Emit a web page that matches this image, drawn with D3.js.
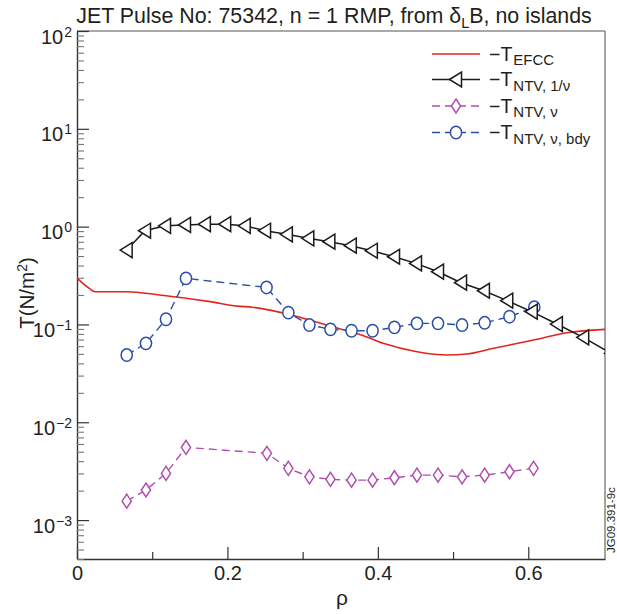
<!DOCTYPE html>
<html><head><meta charset="utf-8">
<script src="https://cdn.jsdelivr.net/npm/d3@7"></script>
<style>
body{margin:0;background:#fff}
svg{display:block;font-family:"Liberation Sans",Arial,Helvetica,sans-serif}
</style>
</head><body>
<svg id="chart" width="617" height="614"></svg>
<script>
// ---------------- data ----------------
const rhoEFCC = [0, 0.015, 0.024, 0.066, 0.110, 0.177, 0.213, 0.233, 0.290, 0.332, 0.363, 0.378, 0.407, 0.452, 0.492, 0.518, 0.554, 0.607, 0.651, 0.702];
const tEFCC   = [0.298, 0.238, 0.216, 0.216, 0.200, 0.171, 0.154, 0.150, 0.122, 0.0986, 0.0842, 0.078, 0.0641, 0.0526, 0.0487, 0.0498, 0.0570, 0.0692, 0.0822, 0.0891];

const rhoNTV1nu = [0.066, 0.0904, 0.117, 0.1436, 0.170, 0.197, 0.223, 0.250, 0.279, 0.3075, 0.3355, 0.364, 0.392, 0.4215, 0.4507, 0.480, 0.5106, 0.541, 0.572, 0.6046, 0.638, 0.673, 0.710];
const tNTV1nu   = [0.576, 0.908, 1.02, 1.04, 1.06, 1.06, 1.02, 0.908, 0.834, 0.759, 0.701, 0.638, 0.567, 0.492, 0.421, 0.346, 0.267, 0.221, 0.175, 0.135, 0.101, 0.0738, 0.0507];

const rhoNTVnu = [0.0661, 0.0917, 0.1183, 0.1449, 0.2525, 0.281, 0.309, 0.337, 0.365, 0.393, 0.422, 0.452, 0.480, 0.512, 0.542, 0.575, 0.607];
const tNTVnu   = [0.00156, 0.00203, 0.00300, 0.00554, 0.00481, 0.00338, 0.00277, 0.00261, 0.00256, 0.00256, 0.00271, 0.00288, 0.00288, 0.00277, 0.00288, 0.00312, 0.00338];

const rhoNTVbdy = [0.0661, 0.0917, 0.1183, 0.1449, 0.2520, 0.281, 0.309, 0.337, 0.365, 0.393, 0.422, 0.452, 0.480, 0.512, 0.542, 0.575, 0.608];
const tNTVbdy   = [0.0487, 0.0641, 0.113, 0.296, 0.239, 0.132, 0.0986, 0.0891, 0.0862, 0.0862, 0.0934, 0.1026, 0.1026, 0.0986, 0.104, 0.120, 0.150];

const xMajorTicks = [0, 0.2, 0.4, 0.6];
const xTickLabels = ["0", "0.2", "0.4", "0.6"];
const xMinorTicks = [0.1, 0.3, 0.5];
const yExponents  = [-3, -2, -1, 0, 1, 2];
const yExpLabels  = ["\u22123", "\u22122", "\u22121", "0", "1", "2"];

const titleParts  = ["JET Pulse No: 75342, n = 1 RMP, from \u03b4", "L", "B, no islands"];
const xLabel = "\u03c1";
const yLabel = "T(N/m", yLabelSup = "2", yLabelEnd = ")";
const legendSubs = ["EFCC", "NTV, 1/\u03bd", "NTV, \u03bd", "NTV, \u03bd, bdy"];
const sideNote = "JG09.391-9c";

// ---------------- layout ----------------
const L = 77, R = 605, T = 31, B = 559;
const colRed = "#e3251d", colBlack = "#1b1b1b", colPurple = "#b04fb0", colBlue = "#2b4fa6";
const txt = "#231f20", axisCol = "#333";

const svg = d3.select("#chart");
const x = d3.scaleLinear().domain([0, 0.702]).range([L, R]);
const y = d3.scaleLog().domain([4e-4, 100]).range([B, T]);

svg.append("defs").append("clipPath").attr("id", "clip")
  .append("rect").attr("x", L).attr("y", T).attr("width", R - L).attr("height", B - T);

// title
const title = svg.append("text").attr("x", 334).attr("y", 22.5).attr("text-anchor", "middle")
  .attr("font-size", 21.4).attr("fill", txt);
title.append("tspan").text(titleParts[0]);
title.append("tspan").attr("font-size", 14.5).attr("dy", 5).text(titleParts[1]);
title.append("tspan").attr("dy", -5).text(titleParts[2]);

// frame top & right
svg.append("line").attr("x1", L).attr("x2", R).attr("y1", T).attr("y2", T).attr("stroke", "#555").attr("stroke-width", 1.2);
svg.append("line").attr("x1", R).attr("x2", R).attr("y1", T).attr("y2", B).attr("stroke", "#666").attr("stroke-width", 1.2);

// x axis
const gx = svg.append("g").attr("transform", `translate(0,${B})`)
  .call(d3.axisBottom(x).tickValues(xMajorTicks).tickSize(-12).tickSizeOuter(0).tickPadding(20)
        .tickFormat((d, i) => xTickLabels[i]));
gx.selectAll("text").attr("font-size", 20).attr("fill", txt).attr("font-family", null).attr("dy", "0").attr("y", 20.5);
gx.select(".domain").attr("stroke", axisCol).attr("stroke-width", 1.4);
gx.selectAll(".tick line").attr("stroke", axisCol).attr("stroke-width", 1.2);
const gxm = svg.append("g").attr("transform", `translate(0,${B})`)
  .call(d3.axisBottom(x).tickValues(xMinorTicks).tickSize(-7).tickSizeOuter(0).tickFormat(""));
gxm.select(".domain").remove();
gxm.selectAll(".tick line").attr("stroke", axisCol).attr("stroke-width", 1.2);

// y axis
const yMajor = yExponents.map(e => Math.pow(10, e));
const yMinor = [];
for (let e = -4; e < 2; e++) for (let k = 2; k <= 9; k++) {
  const v = k * Math.pow(10, e);
  if (v >= 4e-4 && v <= 100) yMinor.push(v);
}
const gy = svg.append("g").attr("transform", `translate(${L},0)`)
  .call(d3.axisLeft(y).tickValues(yMajor).tickSize(-12).tickSizeOuter(0).tickFormat(""));
gy.select(".domain").attr("stroke", axisCol).attr("stroke-width", 1.4);
gy.selectAll(".tick line").attr("stroke", axisCol).attr("stroke-width", 1.2);
const gym = svg.append("g").attr("transform", `translate(${L},0)`)
  .call(d3.axisLeft(y).tickValues(yMinor).tickSize(-7).tickSizeOuter(0).tickFormat(""));
gym.select(".domain").remove();
gym.selectAll(".tick line").attr("stroke", "#777").attr("stroke-width", 1.1);

yExponents.forEach((e, i) => {
  const yy = y(Math.pow(10, e));
  const t = svg.append("text").attr("x", 72).attr("y", yy + 12.6).attr("text-anchor", "end")
    .attr("font-size", 20).attr("fill", txt);
  t.append("tspan").text("10");
  t.append("tspan").attr("font-size", 14).attr("dy", -7).attr("dx", 1).text(yExpLabels[i]);
});

// axis labels
svg.append("text").attr("x", 342).attr("y", 605).attr("text-anchor", "middle")
  .attr("font-size", 21).attr("fill", txt).text(xLabel);
const yl = svg.append("text").attr("transform", "translate(34,293) rotate(-90)").attr("text-anchor", "middle")
  .attr("font-size", 20.5).attr("fill", txt);
yl.append("tspan").text(yLabel);
yl.append("tspan").attr("font-size", 14).attr("dy", -7).text(yLabelSup);
yl.append("tspan").attr("dy", 7).text(yLabelEnd);

svg.append("text").attr("transform", "translate(615,553) rotate(-90)").attr("font-size", 11.5)
  .attr("fill", txt).text(sideNote);

// ---------------- series ----------------
const plot = svg.append("g").attr("clip-path", "url(#clip)");
const line = d3.line().x(d => x(d[0])).y(d => y(d[1]));
const lineSmooth = d3.line().x(d => x(d[0])).y(d => y(d[1])).curve(d3.curveMonotoneX);

const triPath = "M-6.5,0 L5.5,-7.5 L5.5,7.5 Z";
const diaPath = "M0,-7 L4.6,0 L0,7 L-4.6,0 Z";

// EFCC
plot.append("path").datum(d3.zip(rhoEFCC, tEFCC)).attr("d", lineSmooth)
  .attr("fill", "none").attr("stroke", colRed).attr("stroke-width", 1.6);

// NTV nu (purple)
const dNu = d3.zip(rhoNTVnu, tNTVnu);
plot.append("path").datum(dNu).attr("d", line).attr("fill", "none")
  .attr("stroke", colPurple).attr("stroke-width", 1.4).attr("stroke-dasharray", "8,5");
plot.selectAll(".dia").data(dNu).join("path").attr("class", "dia")
  .attr("transform", d => `translate(${x(d[0])},${y(d[1])})`).attr("d", diaPath)
  .attr("fill", "#fff").attr("stroke", colPurple).attr("stroke-width", 1.5);

// NTV nu bdy (blue)
const dBdy = d3.zip(rhoNTVbdy, tNTVbdy);
plot.append("path").datum(dBdy).attr("d", line).attr("fill", "none")
  .attr("stroke", colBlue).attr("stroke-width", 1.4).attr("stroke-dasharray", "8,5");
plot.selectAll(".circ").data(dBdy).join("ellipse").attr("class", "circ")
  .attr("cx", d => x(d[0])).attr("cy", d => y(d[1])).attr("rx", 5.6).attr("ry", 6.2)
  .attr("fill", "#fff").attr("stroke", colBlue).attr("stroke-width", 1.5);

// NTV 1/nu (black)
const d1 = d3.zip(rhoNTV1nu, tNTV1nu);
plot.append("path").datum(d1).attr("d", line).attr("fill", "none")
  .attr("stroke", colBlack).attr("stroke-width", 1.5);
plot.selectAll(".tri").data(d1).join("path").attr("class", "tri")
  .attr("transform", d => `translate(${x(d[0])},${y(d[1])})`).attr("d", triPath)
  .attr("fill", "#fff").attr("stroke", colBlack).attr("stroke-width", 1.5);

// ---------------- legend ----------------
const legRows = [
  {y: 54, col: colRed, dash: null, marker: null},
  {y: 79.5, col: colBlack, dash: null, marker: triPath},
  {y: 106, col: colPurple, dash: "8,5", marker: diaPath},
  {y: 132.5, col: colBlue, dash: "8,5", marker: "circle"}
];
legRows.forEach((r, i) => {
  const g = svg.append("g");
  g.append("line").attr("x1", 432).attr("x2", 480).attr("y1", r.y).attr("y2", r.y)
    .attr("stroke", r.col).attr("stroke-width", 1.5).attr("stroke-dasharray", r.dash);
  if (r.marker === "circle") {
    g.append("ellipse").attr("cx", 456).attr("cy", r.y).attr("rx", 5.6).attr("ry", 6.2)
      .attr("fill", "#fff").attr("stroke", r.col).attr("stroke-width", 1.5);
  } else if (r.marker) {
    g.append("path").attr("transform", `translate(456,${r.y})`).attr("d", r.marker)
      .attr("fill", "#fff").attr("stroke", r.col).attr("stroke-width", 1.5);
  }
  const t = g.append("text").attr("x", 489).attr("y", r.y + 6.5).attr("font-size", 19.5).attr("fill", txt);
  t.append("tspan").text("\u2212T");
  t.append("tspan").attr("font-size", 15).attr("dy", 4.5).attr("dx", 1).text(legendSubs[i]);
});
</script>
</body></html>
